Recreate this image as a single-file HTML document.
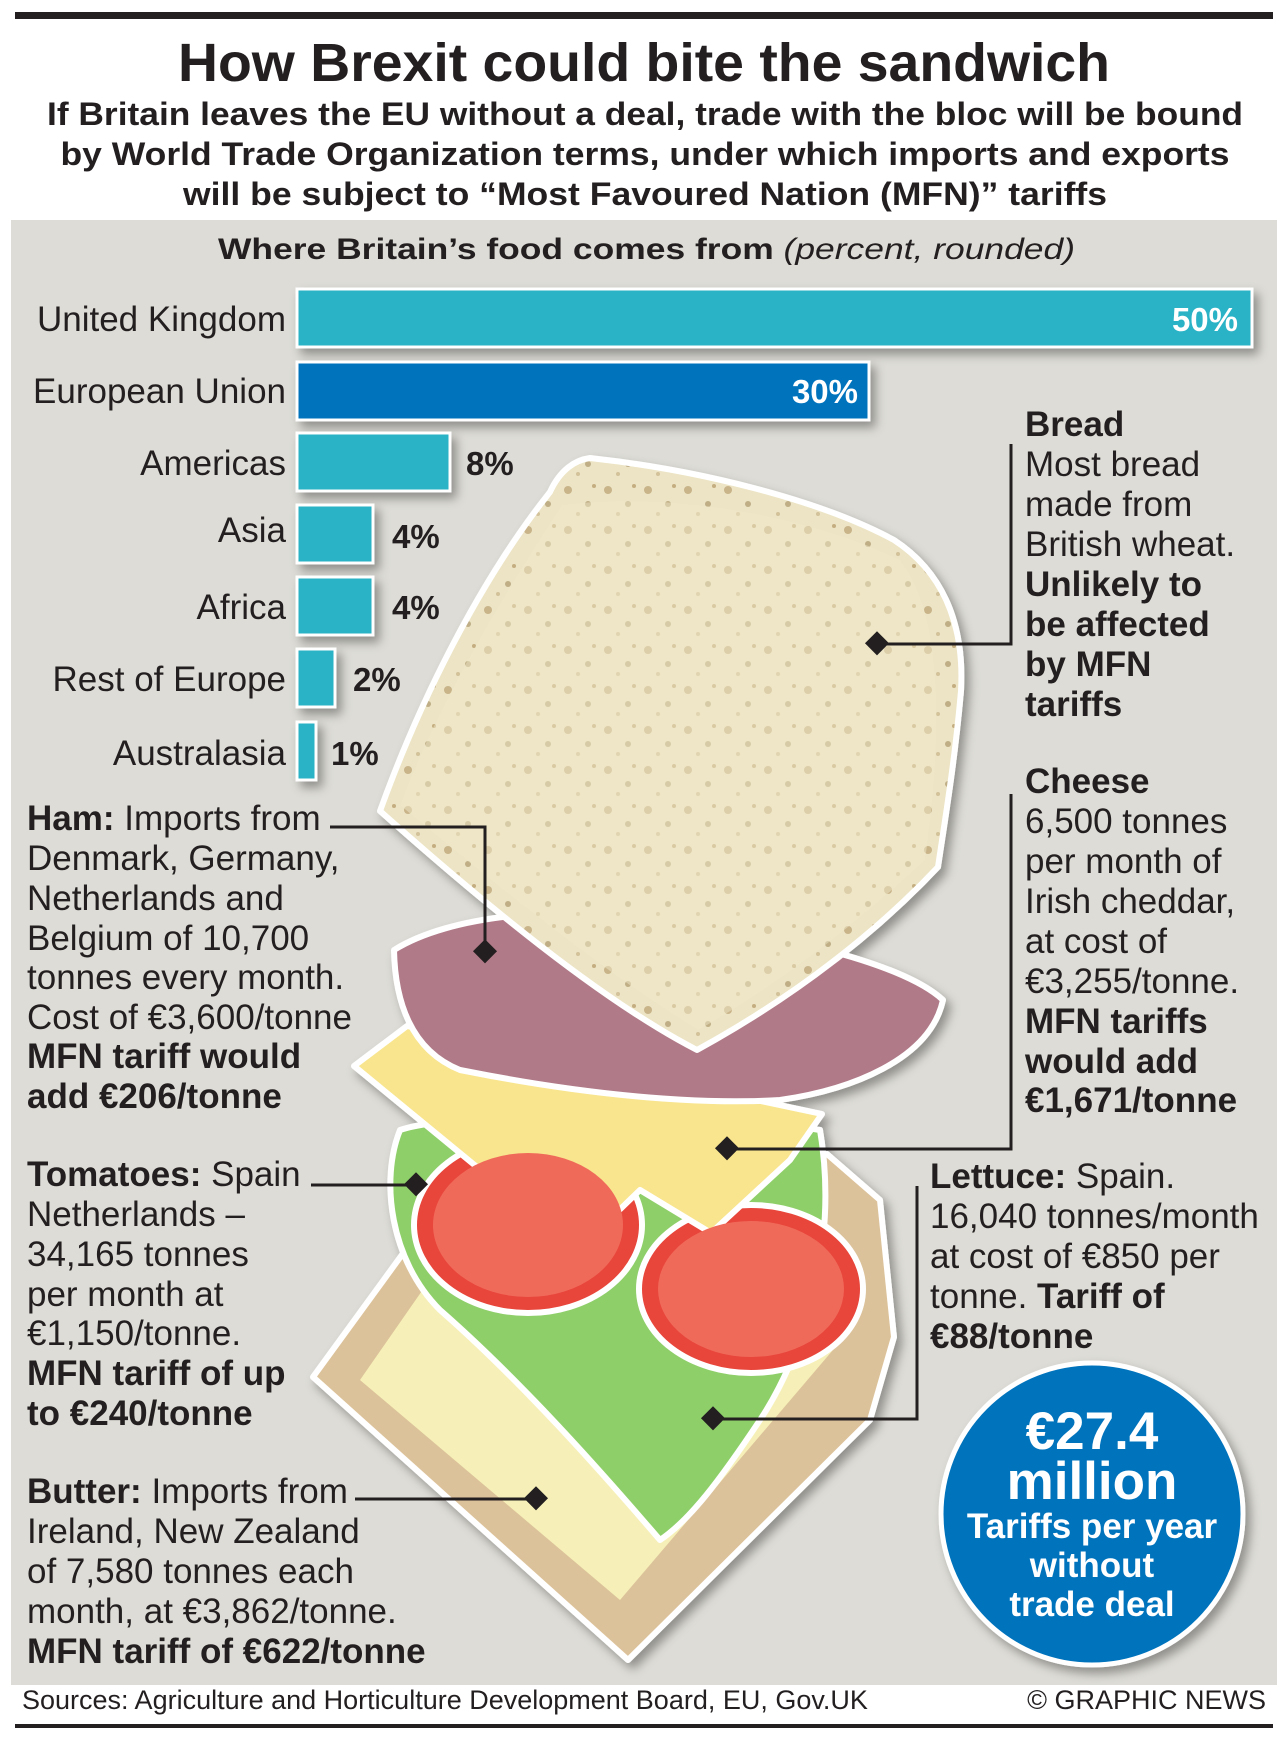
<!DOCTYPE html>
<html><head><meta charset="utf-8"><style>
html,body{margin:0;padding:0;background:#fff;}
svg{display:block;}
text{font-family:"Liberation Sans",Arial,sans-serif;fill:#231f20;}
.b{font-weight:bold;}
</style></head><body>
<svg width="1288" height="1739" viewBox="0 0 1288 1739" xmlns="http://www.w3.org/2000/svg">
<defs>
<filter id="sh" x="-10%" y="-10%" width="130%" height="130%"><feDropShadow dx="5" dy="6" stdDeviation="5" flood-color="#000" flood-opacity="0.35"/></filter>
<pattern id="crumb" width="40" height="40" patternUnits="userSpaceOnUse">
<rect width="40" height="40" fill="#ece4c4"/>
<circle cx="8" cy="10" r="4" fill="#c9b48a"/><circle cx="28" cy="24" r="3" fill="#bfae86"/><circle cx="18" cy="34" r="2" fill="#d3c29a"/><circle cx="34" cy="6" r="2" fill="#c4ad80"/>
</pattern>
</defs>
<rect width="1288" height="1739" fill="#fff"/>
<rect x="15" y="12" width="1258" height="7" fill="#231f20"/>
<text x="644" y="81" text-anchor="middle" class="b" font-size="54" textLength="932" lengthAdjust="spacingAndGlyphs">How Brexit could bite the sandwich</text>
<text x="645" y="125" text-anchor="middle" class="b" font-size="32" textLength="1196" lengthAdjust="spacingAndGlyphs">If Britain leaves the EU without a deal, trade with the bloc will be bound</text>
<text x="645" y="165" text-anchor="middle" class="b" font-size="32" textLength="1169" lengthAdjust="spacingAndGlyphs">by World Trade Organization terms, under which imports and exports</text>
<text x="645" y="205" text-anchor="middle" class="b" font-size="32" textLength="924" lengthAdjust="spacingAndGlyphs">will be subject to “Most Favoured Nation (MFN)” tariffs</text>
<rect x="11" y="220" width="1266" height="1465" fill="#dddcd6"/>
<text x="218" y="259" font-size="30" textLength="857" lengthAdjust="spacingAndGlyphs"><tspan class="b">Where Britain’s food comes from </tspan><tspan font-style="italic">(percent, rounded)</tspan></text>

<g filter="url(#sh)" stroke="#fff" stroke-width="3">
<rect x="297" y="289" width="955" height="58" fill="#2ab3c6"/>
<rect x="297" y="362" width="572" height="58" fill="#0073bd"/>
<rect x="297" y="433" width="153" height="58" fill="#2ab3c6"/>
<rect x="297" y="505" width="76" height="58" fill="#2ab3c6"/>
<rect x="297" y="577" width="76" height="58" fill="#2ab3c6"/>
<rect x="297" y="649" width="38" height="58" fill="#2ab3c6"/>
<rect x="297" y="722" width="19" height="58" fill="#2ab3c6"/>
</g>
<g text-anchor="end" font-size="35">
<text x="286" y="331">United Kingdom</text>
<text x="286" y="403">European Union</text>
<text x="286" y="475">Americas</text>
<text x="286" y="542">Asia</text>
<text x="286" y="619">Africa</text>
<text x="286" y="691">Rest of Europe</text>
<text x="286" y="765">Australasia</text>
<text x="1238" y="331" font-size="33" class="b" style="fill:#fff">50%</text>
<text x="858" y="403" font-size="33" class="b" style="fill:#fff">30%</text>
</g>
<g class="b" font-size="33">
<text x="466" y="475">8%</text>
<text x="392" y="548">4%</text>
<text x="392" y="619">4%</text>
<text x="353" y="691">2%</text>
<text x="331" y="765">1%</text>
</g>

<!-- sandwich -->
<g stroke="#fff" stroke-width="6" stroke-linejoin="round" filter="url(#sh)">
<polygon points="412,1241 827,1154 880,1200 894,1337 870,1420 628,1660 313,1377" fill="#dcc29a"/>
<polygon points="440,1265 800,1200 850,1330 620,1600 360,1380" fill="#f6f0b8" stroke="none"/>
<path d="M400,1130 C460,1110 700,1110 820,1130 C840,1250 800,1360 760,1420 C720,1480 690,1520 660,1540 C600,1470 520,1380 440,1310 C390,1260 380,1180 400,1130 Z" fill="#8fcf6a"/>
<ellipse cx="528" cy="1225" rx="114" ry="88" fill="#e8443a"/>
<ellipse cx="751" cy="1289" rx="112" ry="84" fill="#e8443a"/>
<polygon points="354,1066 407,1026 822,1114 790,1160 711,1233 640,1190 578,1250" fill="#f8e58e"/>
<path d="M394,950 C450,915 560,905 650,920 C760,930 900,960 943,1000 C930,1060 850,1090 780,1100 C680,1106 560,1090 460,1070 C410,1050 395,1000 394,950 Z" fill="#b07a88"/>
<path d="M550,492 C560,470 575,460 590,458 C700,470 820,500 894,540 C940,570 965,620 961,691 C955,760 945,820 938,867 C860,950 770,1010 697,1050 C600,1000 480,900 380,811 C420,700 480,580 550,492 Z" fill="url(#crumb)"/>
<path d="M562,505 C680,490 820,520 900,560 C940,610 945,720 925,860 C850,930 770,990 698,1030 C600,970 490,880 400,805 C440,700 500,600 562,505 Z" fill="#efe7c8" stroke="none" opacity="0.5"/>
</g>
<ellipse cx="528" cy="1225" rx="95" ry="72" fill="#f06a5a"/>
<ellipse cx="751" cy="1289" rx="93" ry="68" fill="#f06a5a"/>

<g fill="none" stroke="#231f20" stroke-width="3">
<polyline points="1011,444 1011,644 877,644"/>
<polyline points="1011,794 1011,1149 727,1149"/>
<polyline points="330,827 485,827 485,952"/>
<polyline points="311,1185 416,1185"/>
<polyline points="917,1186 917,1419 713,1419"/>
<polyline points="355,1499 536,1499"/>
</g>
<g fill="#231f20">
<rect x="868" y="635" width="17" height="17" transform="rotate(45 877 644)"/>
<rect x="718" y="1140" width="17" height="17" transform="rotate(45 727 1149)"/>
<rect x="476" y="943" width="17" height="17" transform="rotate(45 485 952)"/>
<rect x="407" y="1176" width="17" height="17" transform="rotate(45 416 1185)"/>
<rect x="704" y="1410" width="17" height="17" transform="rotate(45 713 1419)"/>
<rect x="527" y="1490" width="17" height="17" transform="rotate(45 536 1499)"/>
</g>

<g font-size="35">
<text x="1025" y="436" class="b">Bread</text>
<text x="1025" y="476">Most bread</text>
<text x="1025" y="516">made from</text>
<text x="1025" y="556">British wheat.</text>
<text x="1025" y="596" class="b">Unlikely to</text>
<text x="1025" y="636" class="b">be affected</text>
<text x="1025" y="676" class="b">by MFN</text>
<text x="1025" y="716" class="b">tariffs</text>

<text x="1025" y="793" class="b">Cheese</text>
<text x="1025" y="833">6,500 tonnes</text>
<text x="1025" y="873">per month of</text>
<text x="1025" y="913">Irish cheddar,</text>
<text x="1025" y="953">at cost of</text>
<text x="1025" y="993">€3,255/tonne.</text>
<text x="1025" y="1033" class="b">MFN tariffs</text>
<text x="1025" y="1073" class="b">would add</text>
<text x="1025" y="1112" class="b">€1,671/tonne</text>

<text x="27" y="830"><tspan class="b">Ham:</tspan> Imports from</text>
<text x="27" y="870">Denmark, Germany,</text>
<text x="27" y="910">Netherlands and</text>
<text x="27" y="950">Belgium of 10,700</text>
<text x="27" y="989">tonnes every month.</text>
<text x="27" y="1029">Cost of €3,600/tonne</text>
<text x="27" y="1068" class="b">MFN tariff would</text>
<text x="27" y="1108" class="b">add €206/tonne</text>

<text x="27" y="1186"><tspan class="b">Tomatoes:</tspan> Spain</text>
<text x="27" y="1226">Netherlands –</text>
<text x="27" y="1266">34,165 tonnes</text>
<text x="27" y="1306">per month at</text>
<text x="27" y="1345">€1,150/tonne.</text>
<text x="27" y="1385" class="b">MFN tariff of up</text>
<text x="27" y="1425" class="b">to €240/tonne</text>

<text x="27" y="1503"><tspan class="b">Butter:</tspan> Imports from</text>
<text x="27" y="1543">Ireland, New Zealand</text>
<text x="27" y="1583">of 7,580 tonnes each</text>
<text x="27" y="1623">month, at €3,862/tonne.</text>
<text x="27" y="1663" class="b">MFN tariff of €622/tonne</text>

<text x="930" y="1188"><tspan class="b">Lettuce:</tspan> Spain.</text>
<text x="930" y="1228">16,040 tonnes/month</text>
<text x="930" y="1268">at cost of €850 per</text>
<text x="930" y="1308">tonne. <tspan class="b">Tariff of</tspan></text>
<text x="930" y="1348" class="b">€88/tonne</text>
</g>

<circle cx="1092" cy="1514" r="151" fill="#0073bd" stroke="#fff" stroke-width="5" filter="url(#sh)"/>
<g text-anchor="middle" class="b">
<text x="1092" y="1449" font-size="53" style="fill:#fff">€27.4</text>
<text x="1092" y="1499" font-size="53" style="fill:#fff">million</text>
<text x="1092" y="1538" font-size="35" style="fill:#fff">Tariffs per year</text>
<text x="1092" y="1577" font-size="35" style="fill:#fff">without</text>
<text x="1092" y="1616" font-size="35" style="fill:#fff">trade deal</text>
</g>

<text x="22" y="1709" font-size="27">Sources: Agriculture and Horticulture Development Board, EU, Gov.UK</text>
<text x="1266" y="1709" font-size="27" text-anchor="end">© GRAPHIC NEWS</text>
<rect x="15" y="1724" width="1258" height="4" fill="#231f20"/>
</svg>
</body></html>
